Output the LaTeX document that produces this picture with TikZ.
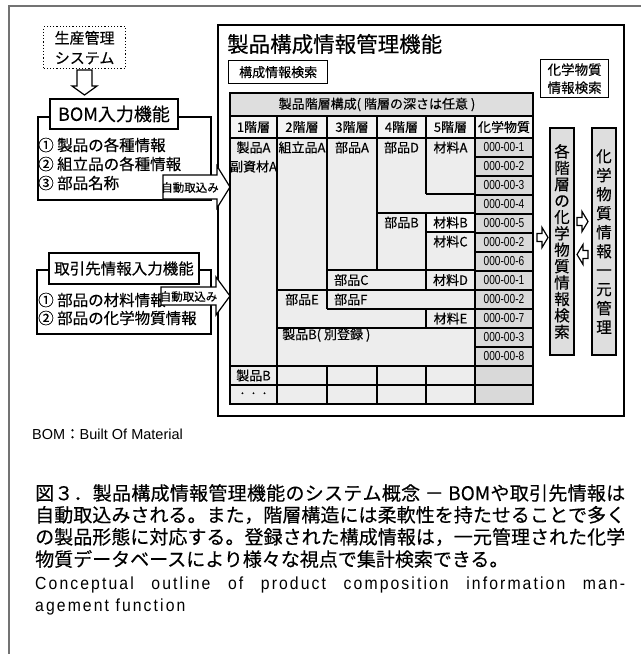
\documentclass[tikz,border=0pt]{standalone}
\usepackage{fontspec}
\setmainfont{Noto Sans CJK JP}[FakeBold=0.3]
\newfontfamily\arial{Liberation Sans}
\newfontfamily\arialn[FakeStretch=0.78]{Liberation Sans}
\newfontfamily\engfont[FakeStretch=0.9, LetterSpace=12]{Liberation Sans}
\XeTeXlinebreaklocale "ja"
\XeTeXlinebreakskip=0pt plus 2pt minus 0.3pt
\newcommand\fullline[1]{\parbox[t]{590pt}{\parfillskip=0pt\relax #1}}
\tikzset{
  mainframe/.style={draw, line width=2.2pt, inner sep=0pt},
  grid/.style={line width=1.1pt},
  tblborder/.style={line width=1.8pt},
  tx/.style={inner sep=0pt, font=\fontsize{13}{14}\selectfont},
  chemtx/.style={inner sep=0pt, font=\arialn\fontsize{13}{14}\selectfont},
  whitebox/.style={draw, fill=white, line width=1.3pt, inner sep=0pt},
  labelbox/.style={draw, fill=white, line width=2pt, inner sep=0pt},
  graybar/.style={draw, fill=black!13, line width=2pt, inner sep=0pt},
  hollow/.style={draw, fill=white, line width=1.2pt, line join=miter},
  item/.style={inner sep=0pt, anchor=west, font=\fontsize{15.5}{16}\selectfont},
  capline/.style={inner sep=0pt, anchor=west, font=\fontsize{19}{20}\selectfont},
  engline/.style={inner sep=0pt, anchor=west, font=\engfont\fontsize{17.5}{20}\selectfont},
  rarrow/.pic={\draw[hollow] (0,-4) -- (5,-4) -- (5,-10) -- (11,0) -- (5,10) -- (5,4) -- (0,4) -- cycle;},
  larrow/.pic={\draw[hollow] (0,-4) -- (-5,-4) -- (-5,-10) -- (-11,0) -- (-5,10) -- (-5,4) -- (0,4) -- cycle;},
}
\begin{document}
\begin{tikzpicture}[x=1pt,y=-1pt]
\useasboundingbox (0,0) rectangle (641,654);
\fill[white] (0,0) rectangle (641,654);
% outer gray frame
\draw[black!55, line width=1.5pt] (9,654) -- (9,6) -- (641,6);

% ---------- left side ----------
\node[draw, dotted, line width=1.2pt, minimum width=82pt, minimum height=42pt, anchor=north west, inner sep=0pt] (prod) at (43,26) {};
\node[inner sep=0pt, align=center, font=\fontsize{15}{20}\selectfont] (prodtx) at (prod.center) {生産管理\\システム};
\draw[hollow] (77,70) -- (92,70) -- (92,86) -- (97,86) -- (84.5,95) -- (72,86) -- (77,86) -- cycle;

% BOM block
\node[draw, line width=2pt, minimum width=173pt, minimum height=83pt, anchor=north west, inner sep=0pt] (bombody) at (37,116) {};
\node[labelbox, minimum width=128pt, minimum height=30pt, anchor=north west] (bomlab) at (49,98) {};
\node[inner sep=0pt, font=\fontsize{18}{19}\selectfont] (bomtx) at (bomlab.center) {BOM入力機能};
\node[item] (b1) at (38,145) {① 製品の各種情報};
\node[item] (b2) at (38,164) {② 組立品の各種情報};
\node[item] (b3) at (38,183) {③ 部品名称};

% supplier block
\node[draw, line width=2pt, minimum width=174pt, minimum height=64pt, anchor=north west, inner sep=0pt] (supbody) at (36,269) {};
\node[labelbox, minimum width=150pt, minimum height=31pt, anchor=north west] (suplab) at (48,252) {};
\node[inner sep=0pt, font=\fontsize{15.5}{17}\selectfont] (suptx) at (suplab.center) {取引先情報入力機能};
\node[item] (s1) at (38,300) {① 部品の材料情報};
\node[item] (s2) at (38,318) {② 部品の化学物質情報};

% ---------- main box ----------
\node[mainframe, minimum width=406pt, minimum height=391pt, anchor=north west] (main) at (217,24) {};
\node[inner sep=0pt, anchor=west, font=\fontsize{21.5}{22}\selectfont] (title) at (227,44) {製品構成情報管理機能};
\node[whitebox, minimum width=99pt, minimum height=23pt, anchor=north west] (kensaku) at (228,60) {};
\node[inner sep=0pt, font=\fontsize{13}{14}\selectfont] (kensakutx) at (kensaku.center) {構成情報検索};
\node[whitebox, minimum width=68pt, minimum height=38pt, anchor=north west] (chemsearch) at (540,59) {};
\node[inner sep=0pt, align=center, font=\fontsize{13.5}{18}\selectfont] (chemsearchtx) at (chemsearch.center) {化学物質\\情報検索};

% auto-import arrows
\draw[hollow] (163,175) -- (217,175) -- (217,166) -- (230,187) -- (217,208) -- (217,199) -- (163,199) -- cycle;
\node[inner sep=0pt, font=\fontsize{11.5}{12}\selectfont] (auto1) at (190,187.5) {自動取込み};
\draw[hollow] (161,287) -- (216,287) -- (216,277) -- (230,296) -- (216,315) -- (216,305) -- (161,305) -- cycle;
\node[inner sep=0pt, font=\fontsize{11.5}{12}\selectfont] (auto2) at (188.5,296.5) {自動取込み};

% ---------- table ----------
\fill[black!7] (230,116) rectangle (533,404);
\fill[black!4] (230,116) rectangle (533,138);
\fill[black!13] (230,93) rectangle (533,116);
\fill[black!15] (475,138) rectangle (533,404);
\fill[black!3] (426,213) rectangle (475,232);
\draw[grid] (230,116) -- (533,116);
\draw[grid] (230,138) -- (533,138);
\draw[grid] (230,366) -- (533,366);
\draw[grid] (230,385) -- (533,385);
\draw[grid] (277,116) -- (277,404);
\draw[grid] (475,116) -- (475,404);
\draw[grid] (327,116) -- (327,309) (327,366) -- (327,404);
\draw[grid] (377,116) -- (377,270) (377,366) -- (377,404);
\draw[grid] (426,116) -- (426,194) (426,213) -- (426,290) (426,309) -- (426,328) (426,366) -- (426,404);
\draw[grid] (426,194) -- (475,194);
\draw[grid] (377,213) -- (475,213);
\draw[grid] (426,232) -- (475,232);
\draw[grid] (327,270) -- (475,270);
\draw[grid] (277,290) -- (475,290);
\draw[grid] (327,309) -- (475,309);
\draw[grid] (277,328) -- (475,328);
\foreach \r in {1,...,13} {\draw[grid] (475,138+19*\r) -- (533,138+19*\r);}
\draw[tblborder] (230,93) rectangle (533,404);

\node[tx] (hdr) at (377,104.5) {製品階層構成( 階層の深さは任意 )};
\node[tx] (h1) at (253.5,127) {1階層};
\node[tx] (h2) at (302,127) {2階層};
\node[tx] (h3) at (352,127) {3階層};
\node[tx] (h4) at (401.5,127) {4階層};
\node[tx] (h5) at (450.5,127) {5階層};
\node[tx] (h6) at (504,127) {化学物質};

\node[tx] (pa) at (253.5,147.5) {製品A};
\node[tx] (fa) at (253.5,166.5) {副資材A};
\node[tx] (ka) at (302,147.5) {組立品A};
\node[tx] (bA) at (352,147.5) {部品A};
\node[tx] (bD) at (401.5,147.5) {部品D};
\node[tx] (mA) at (450.5,147.5) {材料A};
\node[tx] (bB) at (401.5,222.5) {部品B};
\node[tx] (mB) at (450.5,222.5) {材料B};
\node[tx] (mC) at (450.5,241.5) {材料C};
\node[tx, anchor=west] (bC) at (334,280) {部品C};
\node[tx] (mD) at (450.5,280) {材料D};
\node[tx] (bE) at (302,299.5) {部品E};
\node[tx, anchor=west] (bF) at (334,299.5) {部品F};
\node[tx] (mE) at (450.5,318.5) {材料E};
\node[tx, anchor=west] (pB2) at (282,335) {製品B( 別登録 )};
\node[tx] (pB) at (253.5,375.5) {製品B};
\node[tx, font=\fontsize{9}{10}\selectfont] (dots) at (253.5,394.5) {・ ・ ・};

\foreach \v [count=\i from 0] in {000-00-1,000-00-2,000-00-3,000-00-4,000-00-5,000-00-2,000-00-6,000-00-1,000-00-2,000-00-7,000-00-3,000-00-8} {
  \node[chemtx] (c\i) at (504,147.5+19*\i) {\v};
}

% ---------- right bars ----------
\node[graybar, minimum width=24pt, minimum height=227pt, anchor=north west] (bar1) at (549,127) {};
\node[inner sep=0pt, align=center, font=\fontsize{15.5}{16.4}\selectfont] (bar1tx) at (bar1.center) {各\\階\\層\\の\\化\\学\\物\\質\\情\\報\\検\\索};
\node[graybar, minimum width=24pt, minimum height=227pt, anchor=north west] (bar2) at (591,127) {};
\node[inner sep=0pt, align=center, font=\fontsize{15.5}{19}\selectfont] (bar2tx) at (bar2.center) {化\\学\\物\\質\\情\\報\\一\\元\\管\\理};
\pic at (537,237.5) {rarrow};
\pic at (577,221.5) {rarrow};
\pic at (588,254.5) {larrow};

% ---------- captions ----------
\node[inner sep=0pt, anchor=west, font=\fontsize{14.5}{15}\selectfont] (bomnote) at (32,434) {{\arial BOM}：{\arial Built Of Material}};
\node[capline] (cap1) at (35,493) {\fullline{図３．製品構成情報管理機能のシステム概念 － BOMや取引先情報は}};
\node[capline] (cap2) at (35,515) {\fullline{自動取込みされる。また，階層構造には柔軟性を持たせることで多く}};
\node[capline] (cap3) at (35,537) {\fullline{の製品形態に対応する。登録された構成情報は，一元管理された化学}};
\node[capline] (cap4) at (35,559) {物質データベースにより様々な視点で集計検索できる。};
\node[engline] (en1) at (35,585) {\fullline{Conceptual outline of product composition information man-}};
\node[engline] (en2) at (35,607) {agement function};
\end{tikzpicture}
\end{document}
